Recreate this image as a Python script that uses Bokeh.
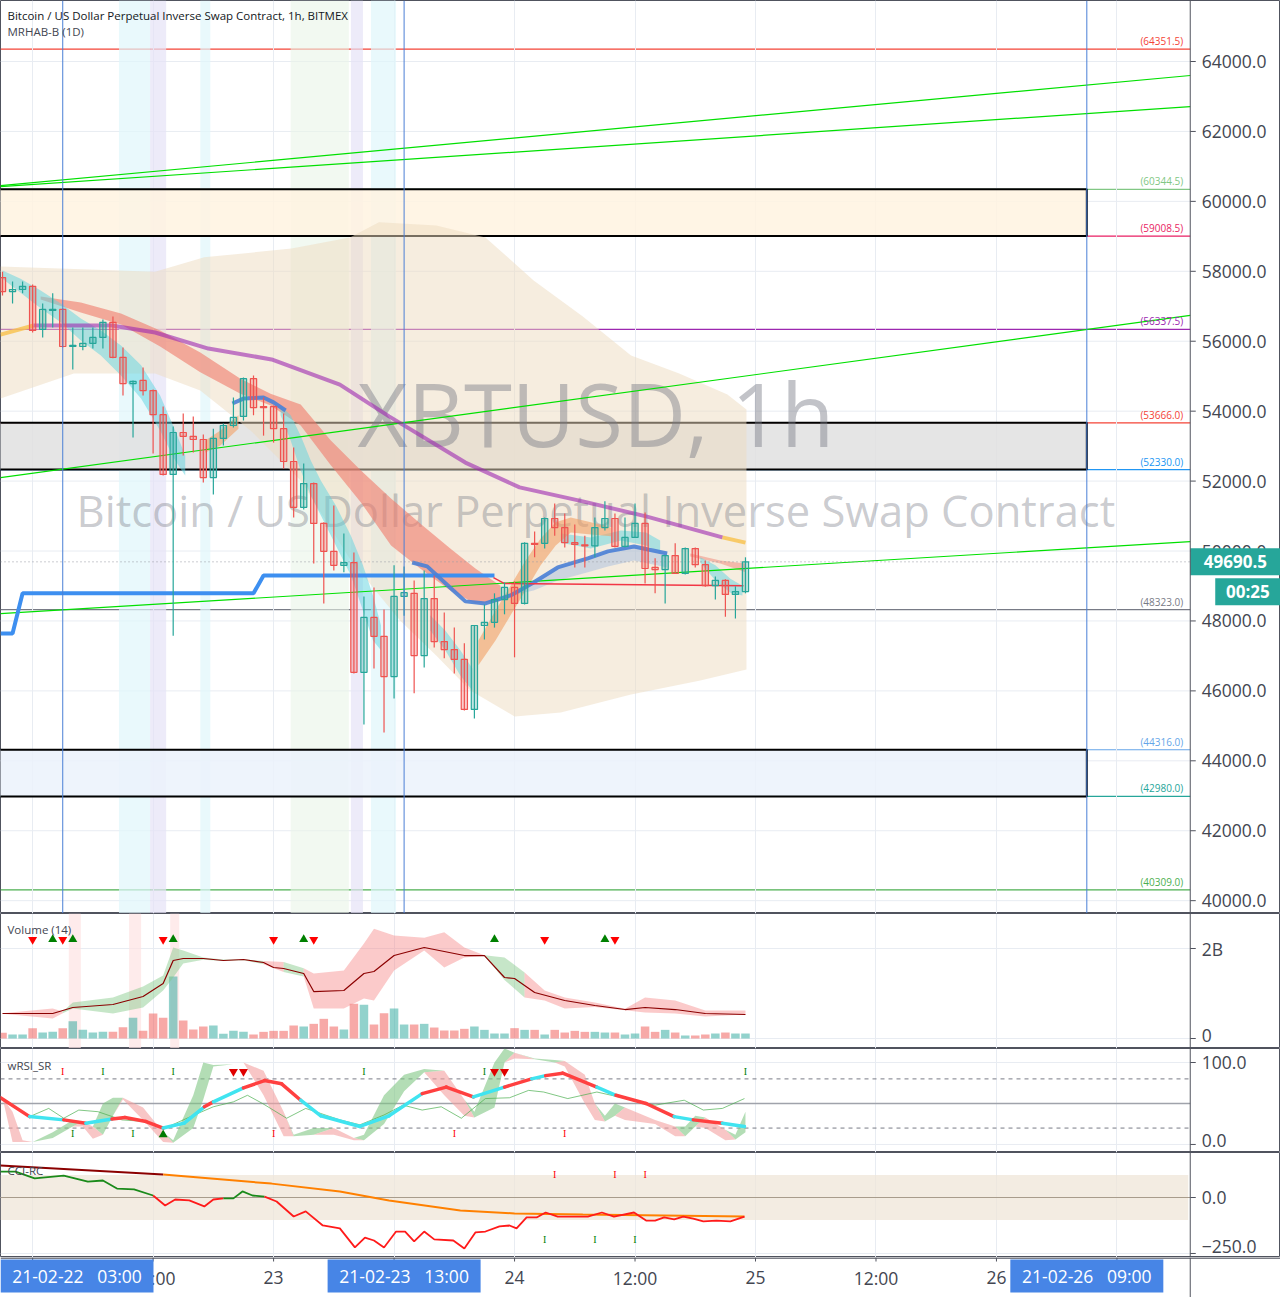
from bokeh.plotting import figure
from bokeh.models import Range1d, FixedTicker, Label, Span, BoxAnnotation
from bokeh.layouts import column
from bokeh.core.properties import value
from bokeh.embed import file_html
from bokeh.resources import INLINE

FONT = "Open Sans"

# ---- candles, one per hour; hours counted from 21-02-23 00:00 ----
hours = list(range(-27, 48))
opens = [57820, 57420, 57480, 57570, 56340, 56880, 56910, 55850, 55850, 55940,
         56110, 56540, 55540, 54790, 54880, 54590, 53900, 52190, 53390, 53280,
         53190, 52100, 53220, 53590, 53850, 54930, 54130, 54130, 53500, 52560,
         51250, 51930, 50790, 49990, 49590, 49670, 46530, 48100, 47560, 46410,
         48700, 48790, 47010, 48640, 47410, 47180, 46900, 45470, 47870, 47960,
         48610, 48960, 48500, 50220, 50220, 50930, 50670, 50240, 50180, 50150,
         50670, 50930, 50130, 50390, 50790, 49530, 49470, 49870, 49360, 50070,
         49610, 49010, 49160, 48760, 48840]
highs = [57990, 57710, 57710, 57620, 57080, 57370, 56940, 56390, 56390, 56390,
         56620, 56710, 55820, 54880, 55250, 54620, 54130, 53560, 53930, 53850,
         53330, 53500, 53650, 54390, 54960, 55020, 54390, 54160, 53930, 52960,
         52500, 51960, 50820, 51300, 50500, 49960, 48700, 48960, 48330, 49590,
         49560, 49160, 49440, 49300, 48240, 47810, 47360, 47870, 48470, 48790,
         49100, 49130, 50250, 50560, 50960, 51360, 51070, 50760, 50440, 50960,
         51420, 51070, 50960, 51360, 51100, 49790, 49870, 50220, 50100, 50100,
         49730, 49270, 49190, 48990, 49820]
lows = [57310, 57080, 57370, 56250, 56110, 56390, 55820, 55190, 55740, 55790,
        55790, 55510, 54450, 53250, 54450, 52790, 52160, 47580, 52730, 52820,
        51960, 51620, 53020, 53530, 53730, 53880, 53300, 53100, 52360, 50960,
        51190, 49640, 48500, 49440, 49390, 46500, 45040, 46640, 44810, 45780,
        48150, 45930, 46670, 47240, 46930, 46500, 45440, 45210, 47470, 47810,
        48190, 46960, 48470, 49820, 50070, 50440, 50100, 49530, 49530, 49820,
        50590, 50100, 50100, 50390, 49070, 48790, 48500, 49340, 49330, 49530,
        48980, 48610, 48120, 48070, 48790]
closes = [57420, 57480, 57570, 56310, 56910, 56910, 55850, 55880, 55940, 56110,
          56540, 55540, 54790, 54850, 54590, 53900, 52190, 53390, 53280, 53190,
          52100, 53220, 53590, 53820, 54930, 54100, 54100, 53500, 52560, 51250,
          51930, 50790, 49990, 49590, 49670, 46530, 48100, 47560, 46410, 48700,
          48810, 47010, 48640, 47410, 47180, 46900, 45470, 47870, 47960, 48610,
          48960, 48500, 50220, 50190, 50930, 50670, 50240, 50190, 50150, 50670,
          50930, 50130, 50390, 50790, 49500, 49470, 49870, 49360, 50070, 49610,
          49010, 49160, 48760, 48840, 49690.5]
# volume in millions
volumes = [126, 89, 89, 230, 133, 148, 230, 385, 192, 133,
           148, 148, 252, 459, 170, 556, 459, 1378, 400, 200,
           267, 289, 104, 170, 148, 89, 148, 170, 170, 289,
           267, 326, 437, 267, 200, 770, 748, 311, 563, 667,
           311, 311, 326, 244, 178, 178, 215, 267, 192, 111,
           111, 230, 192, 192, 89, 192, 133, 170, 148, 148,
           133, 133, 89, 111, 267, 148, 192, 133, 67, 67,
           89, 111, 133, 111, 111]
last_price = 49690.5
countdown = "00:25"

# ---- horizontal levels and zones ----
levels = [64351.5, 60344.5, 59008.5, 56337.5, 53666.0, 52330.0, 48323.0, 44316.0, 42980.0, 40309.0]
level_colors = ["#f44336", "#81c784", "#e91e63", "#9c27b0", "#f44336", "#2196f3",
                "#787b86", "#64a5e8", "#26a69a", "#4caf50"]
zone_top = [60344.5, 53666.0, 44316.0]
zone_bottom = [59008.5, 52330.0, 42980.0]
zone_fill = ["#fff3e0", "#e0e0e0", "#ebf2fc"]
zone_end = 81
vlines = [-21, 13, 81]

# drawn trend lines (price at left edge / right edge)
trend_h = [-27.2, 91.3]
trend_start = [60450, 60420, 52100, 48210]
trend_end = [63600, 62710, 56740, 50270]

# background session bands (hours)
cyan_bands = [(-15.4, -12.3), (-7.3, -6.3), (9.7, 12.2)]
lav_bands = [(-12.3, -10.7), (7.7, 8.9)]
green_bands = [(1.7, 7.5)]

# beige envelope
cloud_up_h = [-27.2, -11.8, -6.9, 1.8, 7.6, 10.5, 16.2, 21.1, 25.9, 30.8, 35.6, 40.4, 45.2, 47.1]
cloud_up = [58140, 57990, 58400, 58650, 58970, 59400, 59310, 58970, 57740, 56710, 55590, 55080, 54480, 54050]
cloud_lo_h = [-27.2, -19.9, -11.8, -7.3, -2.3, 2.7, 7.7, 12.6, 16.2, 19.6, 24.0, 28.6, 35.6, 42.5, 47.1]
cloud_lo = [54360, 55080, 55080, 54590, 53450, 52020, 49730, 48010, 47010, 46010, 45270, 45380, 45900, 46300, 46610]

# purple average
ma_h = [-23.9, -16.1, -11.8, -6.5, -0.2, 6.6, 11.5, 19.1, 24.5, 30.8, 37.1, 44.7]
ma = [56450, 56450, 56250, 55790, 55480, 54760, 53850, 52530, 51820, 51420, 50990, 50390]
ma_y_h = [-27.2, -23.9, 44.7, 47.0]
ma_y = [56190, 56450, 50390, 50240]

# salmon ribbon
sal_h = [-23.2, -19.2, -15.2, -11.3, -7.3, -3.3, -0.3, 2.7, 5.7, 8.7, 11.7, 14.6, 17.6, 20.1, 22.6]
sal_hi = [57280, 57110, 56790, 56310, 55680, 54930, 54500, 54190, 53160, 52300, 51500, 50790, 50070, 49500, 49010]
sal_lo = [57190, 56820, 56480, 55850, 55110, 54500, 54160, 53590, 52450, 51390, 50160, 49500, 48870, 48500, 48560]
sal2_h = [41.5, 44.5, 47.0]
sal2_hi = [49930, 49730, 49640]
sal2_lo = [49840, 49640, 49390]

# cyan ribbons
cy1_h = [-27.0, -25.2, -23.2, -21.2, -19.2, -17.2, -15.2, -13.2, -11.3, -9.8, -8.8]
cy1_hi = [58020, 57790, 57450, 57080, 56650, 56310, 55880, 55310, 54450, 53450, 52730]
cy1_lo = [57790, 57390, 56940, 56540, 56020, 55590, 55020, 54360, 53450, 52590, 52160]
cy2_h = [0.7, 1.7, 2.7, 3.7, 4.7, 6.2, 7.7, 8.9, 9.9, 10.7]
cy2_hi = [54160, 53880, 53300, 52590, 52020, 51300, 50440, 49590, 48730, 47870]
cy2_lo = [53880, 53160, 52300, 51590, 51020, 50160, 49300, 48300, 47440, 47160]
cy3_h = [15.6, 17.1, 18.6, 19.8]
cy3_hi = [48160, 47730, 47160, 46640]
cy3_lo = [47730, 47160, 46440, 46010]
cy4_h = [28.6, 31.6, 34.6, 37.1, 38.5]
cy4_hi = [50500, 50390, 50590, 50530, 50300]
cy4_lo = [50240, 50070, 50300, 50160, 49960]
cy5_h = [42.5, 44.0, 45.5, 46.7]
cy5_hi = [49820, 49590, 49210, 49010]
cy5_lo = [49670, 49160, 48810, 48730]

# orange ribbons
or1_h = [-6.8, -5.3, -3.5]
or1_hi = [53160, 53450, 53880]
or1_lo = [52820, 53020, 53500]
or2_h = [20.4, 22.1, 23.6, 25.1, 26.6, 28.1, 29.6, 31.6, 33.6]
or2_hi = [47440, 48300, 49010, 49730, 50360, 50820, 50960, 50820, 50670]
or2_lo = [46730, 47440, 48160, 48870, 49590, 50160, 50530, 50470, 50420]

# blue lines
step_h = [-27.2, -26.0, -25.0, -2.0, -1.0, 22.0]
step_p = [47640, 47640, 48790, 48790, 49300, 49300]
bl1_h = [-4.1, -3.0, -1.0, 0.0, 1.2]
bl1_p = [54220, 54360, 54390, 54250, 54020]
bl2_h = [13.8, 15.3, 17.9, 19.1, 21.1, 23.6, 25.9, 28.3, 31.3, 33.3, 35.9, 39.2]
bl2_p = [49670, 49560, 48870, 48560, 48500, 48730, 49100, 49530, 49790, 49990, 50130, 49930]
bl2_lo = [49670, 49560, 48870, 48560, 48500, 48730, 48870, 49160, 49390, 49560, 49730, 49530]
thin_red_h = [21.9, 23.0, 46.8]
thin_red_p = [49240, 49070, 49010]

# ---- volume panel ----
vol_ma_h = [-27, -22, -20, -16, -13, -11, -10, -9, -7, -5, -3, -1, 0, 1, 3, 4, 7, 9, 10, 12, 15,
            19, 21, 23, 24, 26, 29, 32, 35, 37, 40, 43, 47]
vol_ma = [556, 556, 689, 756, 933, 1222, 1733, 1778, 1778, 1733, 1756, 1689, 1578, 1556, 1444, 1044,
          1067, 1444, 1489, 1844, 2022, 1844, 1844, 1356, 1333, 1022, 844, 733, 644, 689, 644, 556, 533]
vol_band_h = [-27, -22, -21, -20, -16, -13, -11, -10, -9, -7, -5, -3, -1, 1, 3, 4, 7, 9, 10, 12,
              15, 17, 19, 21, 23, 25, 27, 29, 32, 35, 37, 40, 43, 47]
vol_band_hi = [560, 667, 600, 800, 911, 1156, 1400, 2022, 1956, 1800, 1756, 1760, 1720, 1700, 1560,
               1444, 1511, 2110, 2440, 2290, 2240, 2360, 2020, 1850, 1800, 1467, 1067, 911, 800, 660,
               911, 844, 622, 622]
vol_band_lo = [550, 444, 560, 667, 556, 689, 1067, 1356, 1667, 1750, 1720, 1740, 1650, 1480, 1380,
               667, 667, 889, 844, 1511, 1956, 1578, 1800, 1840, 1300, 911, 844, 667, 700, 630,
               578, 556, 489, 533]
vol_band_col = "rrggggggggggrgrrrrrrrrrggrrrrrrrrr"
vol_dn_h = [-24, -21, -11, 0, 4, 27, 34]
vol_up_h = [-22, -20, -10, 3, 22, 33]
vol_pink_bands = [(-20.4, -19.2), (-14.4, -13.2), (-10.3, -9.4)]

# ---- wRSI panel ----
rsi_h = [-27.2, -24.3, -20.9, -18.7, -16.1, -14.8, -12.7, -11.0, -8.9, -6.9, -6.0, -3.0, -0.9, 0.8,
         2.7, 4.7, 8.6, 11.5, 14.8, 17.2, 19.9, 23.0, 25.7, 27.1, 28.8, 32.2, 34.1, 37.1, 39.9, 41.8,
         44.7, 46.9]
rsi = [57, 34, 30, 26, 31, 33, 28, 20, 26, 46, 52, 69, 78, 74, 54, 35, 22, 35, 62, 70, 58, 70, 80,
       84, 87, 70, 60, 50, 34, 30, 26, 22]
rsi_col = "rcrcrrrccrcrrrccccrrcrcrrcrrcrcc"
fs_h = [-27, -26, -25, -24, -22, -20, -19, -18, -17, -16, -15, -13, -11, -10, -8, -7, -6, -4, -3, -1,
        1, 2, 4, 6, 8, 9, 11, 13, 15, 17, 19, 20, 22, 23, 24, 26, 28, 29, 31, 32, 33, 34, 35, 38, 40,
        41, 42, 43, 45, 46, 47]
fast = [57, 3, 3, 3, 15, 30, 22, 7, 50, 57, 55, 30, 3, 5, 60, 100, 97, 98, 100, 60, 10, 12, 20, 12,
        5, 12, 60, 85, 92, 60, 35, 40, 100, 117, 105, 105, 103, 95, 50, 30, 35, 50, 30, 25, 10, 22,
        35, 20, 5, 12, 40]
slow = [57, 40, 5, 3, 8, 22, 28, 22, 12, 35, 57, 45, 15, 2, 20, 55, 95, 98, 100, 90, 40, 10, 12, 20,
        8, 5, 25, 65, 88, 90, 55, 33, 45, 100, 112, 104, 100, 102, 85, 50, 28, 35, 45, 30, 22, 10,
        22, 33, 18, 6, 15]
raw_h = [-27.2, -24.3, -22.4, -20.9, -19.4, -17.5, -15.1, -12.7, -10.8, -7.9, -6.0, -4.0, -2.6, -1.1,
         1.3, 3.2, 6.6, 8.6, 11.0, 12.9, 14.8, 16.7, 18.7, 21.1, 23.5, 25.4, 26.9, 29.3, 32.2, 35.1,
         38.0, 40.9, 42.8, 44.7, 46.9]
raw = [56, 34, 44, 32, 42, 40, 30, 28, 20, 36, 46, 52, 60, 50, 32, 44, 30, 24, 36, 48, 42, 46, 32,
       56, 57, 66, 64, 56, 64, 56, 48, 54, 42, 44, 56]
rsi_red_tri_h = [-4, -3, 22, 23]
rsi_green_tri_h = [-11]
rsi_top_red_i = [-21]
rsi_top_green_i = [-17, -10, 9, 21, 47]
rsi_bot_red_i = [0, 18, 29]
rsi_bot_green_i = [-20, -14]

# ---- CCI panel ----
cci_slow_h = [-27.2, -11.0, -0.2, 6.6, 11.5, 18.6, 24.0, 30.8, 46.9]
cci_slow = [143, 103, 62, 27, -13, -58, -71, -76, -85]
cci_h = [-27.2, -25.7, -23.8, -20.9, -18.5, -17.0, -15.6, -13.9, -12.0, -10.8, -9.8, -8.4, -6.9,
         -6.0, -5.0, -4.0, -3.1, -2.1, -0.9, 0.3, 2.0, 3.2, 4.9, 6.6, 8.1, 9.1, 10.0, 11.0, 12.2,
         13.1, 14.0, 15.0, 16.0, 17.9, 19.0, 20.1, 21.1, 22.5, 23.5, 24.2, 25.2, 26.2, 27.1, 28.3,
         30.3, 31.3, 32.7, 33.9, 35.9, 37.1, 38.0, 38.9, 39.9, 40.8, 41.8, 42.8, 44.1, 45.5, 46.9]
cci = [116, 116, 85, 98, 71, 76, 40, 36, 9, -36, -9, -13, -40, -9, -4, -4, 27, 9, 4, -18, -85, -62,
       -125, -138, -223, -179, -192, -223, -152, -152, -196, -152, -187, -192, -228, -156, -152,
       -129, -125, -138, -89, -89, -67, -85, -85, -85, -67, -85, -67, -103, -103, -89, -98, -85,
       -94, -107, -103, -107, -85]
cci_col = "ggggggggrrrrrrggggrrrrrrrrrrrrrrrrrrrrrrrrrrrrrrrrrrrrrrrrr"
cci_top_red_i = [28, 34, 37]
cci_bot_green_i = [27, 32, 36]

# ---- axes ----
x_ticks = [-24, -12, 0, 12, 24, 36, 48, 60, 72, 84]
x_labels = ["22", "12:00", "23", "12:00", "24", "12:00", "25", "12:00", "26", "12:00"]
price_ticks = list(range(40000, 64001, 2000))
date_marks = [(-21, "21-02-22", "03:00"), (13, "21-02-23", "13:00"), (81, "21-02-26", "09:00")]

# ---------------------------------------------------------------------------
W = 1280
H_MAIN, H_VOL, H_RSI, H_CCI, H_XAX = 913, 135, 104, 105, 40
PX_H = 10.04            # pixels per hour
AX_H = 91.3             # hour at the price-axis edge
GRID = "#e8ecf2"
AXC = "#50535e"
TXT = "#434651"
UP, DOWN = "#26a69a", "#ef5350"

xr = Range1d(-27.2, -27.2 + W / PX_H)
XS = xr.start


def make_panel(height, y0, y1):
    p = figure(width=W, height=height, x_range=xr, y_range=Range1d(y0, y1),
               output_backend="svg", toolbar_location=None,
               x_axis_location=None, y_axis_location=None, min_border=0)
    p.outline_line_color = AXC
    p.border_fill_color = "white"
    p.xgrid.ticker = FixedTicker(ticks=x_ticks)
    p.xgrid.grid_line_color = GRID
    p.ygrid.visible = False
    return p


def price_axis(p, ticks, labels, offsets=None):
    n = len(ticks)
    p.segment(x0=[XS] * n, x1=[AX_H] * n, y0=ticks, y1=ticks, line_color=GRID,
              level="underlay")
    p.segment(x0=[AX_H] * n, x1=[AX_H + 0.55] * n, y0=ticks, y1=ticks, line_color=AXC)
    p.text(x=[AX_H + 1.15] * n, y=ticks, text=labels, y_offset=offsets or [0] * n,
           text_font=value(FONT), text_font_size="17.5px", text_color=TXT,
           text_align="left", text_baseline="middle")
    p.add_layout(Span(location=AX_H, dimension="height", line_color=AXC, line_width=1))


def hline(p, y, color, width=1.0, dash="solid", level="glyph"):
    p.line([XS, AX_H], [y, y], line_color=color, line_width=width, line_dash=dash, level=level)


def panel_title(p, text, y):
    p.add_layout(Label(x=7, y=y, x_units="screen", y_units="screen", text=text,
                       text_font=FONT, text_font_size="11.5px", text_color=TXT,
                       text_baseline="middle"))


def runs(cols):
    out, i0 = [], 0
    for i in range(1, len(cols)):
        if i == len(cols) - 1 or cols[i] != cols[i0]:
            out.append((i0, i, cols[i0]))
            i0 = i
    return out


up = [c >= o for o, c in zip(opens, closes)]
ccol = [UP if u else DOWN for u in up]

# ================= main price panel =================
P_LO, P_HI = 39633, 65745
p = make_panel(H_MAIN, P_LO, P_HI)
ppx = (P_HI - P_LO) / H_MAIN      # price units per pixel
price_axis(p, price_ticks, ["%.1f" % t for t in price_ticks])

for a, b in cyan_bands:
    p.add_layout(BoxAnnotation(left=a, right=b, fill_color="#dff7fb", fill_alpha=0.7,
                               line_color=None, level="underlay"))
for a, b in lav_bands:
    p.add_layout(BoxAnnotation(left=a, right=b, fill_color="#e6e3f7", fill_alpha=0.7,
                               line_color=None, level="underlay"))
for a, b in green_bands:
    p.add_layout(BoxAnnotation(left=a, right=b, fill_color="#eaf5e8", fill_alpha=0.6,
                               line_color=None, level="underlay"))

for lv, c in zip(levels, level_colors):
    hline(p, lv, c, 1.2, level="underlay")

p.quad(left=XS - 5, right=zone_end, bottom=zone_bottom, top=zone_top,
       fill_color=zone_fill, fill_alpha=0.85, line_color="black", line_width=2)

p.patch(cloud_up_h + cloud_lo_h[::-1], cloud_up + cloud_lo[::-1],
        fill_color="#eedcbf", fill_alpha=0.5, line_color=None)

p.text(x=[32.1], y=[53960], text=["XBTUSD, 1h"], text_font=value(FONT),
       text_font_size="87px", text_color="#787b86", text_alpha=0.45,
       text_align="center", text_baseline="middle")
p.text(x=[32.1], y=[51160], text=["Bitcoin / US Dollar Perpetual Inverse Swap Contract"],
       text_font=value(FONT), text_font_size="43.5px", text_color="#787b86", text_alpha=0.4,
       text_align="center", text_baseline="middle")

p.varea(x=sal_h, y1=sal_lo, y2=sal_hi, fill_color="#f07a6a", fill_alpha=0.6)
p.varea(x=sal2_h, y1=sal2_lo, y2=sal2_hi, fill_color="#f07a6a", fill_alpha=0.45)
for hh, hi, lo in [(cy1_h, cy1_hi, cy1_lo), (cy2_h, cy2_hi, cy2_lo), (cy3_h, cy3_hi, cy3_lo),
                   (cy4_h, cy4_hi, cy4_lo), (cy5_h, cy5_hi, cy5_lo)]:
    p.varea(x=hh, y1=lo, y2=hi, fill_color="#5fd3e0", fill_alpha=0.5)
for hh, hi, lo in [(or1_h, or1_hi, or1_lo), (or2_h, or2_hi, or2_lo)]:
    p.varea(x=hh, y1=lo, y2=hi, fill_color="#f2a066", fill_alpha=0.6)
p.varea(x=bl2_h, y1=bl2_lo, y2=bl2_p, fill_color="#6f9ee0", fill_alpha=0.3)

for y0, y1 in zip(trend_start, trend_end):
    p.line(trend_h, [y0, y1], line_color="#00e000", line_width=1.2)

p.line(ma_y_h[:2], ma_y[:2], line_color="#f9c04a", line_width=4, line_alpha=0.8)
p.line(ma_y_h[2:], ma_y[2:], line_color="#f9c04a", line_width=4, line_alpha=0.8)
p.line(ma_h, ma, line_color="#9c27b0", line_width=4, line_alpha=0.6)

p.line(step_h, step_p, line_color="#3d8ff0", line_width=4)
p.line(bl1_h, bl1_p, line_color="#4a7fd6", line_width=4, line_alpha=0.9)
p.line(bl2_h, bl2_p, line_color="#4a7fd6", line_width=4, line_alpha=0.9)
p.line(thin_red_h, thin_red_p, line_color="#f23645", line_width=1.5)

hline(p, last_price, "#9598a1", 1, dash="1 3")
for v in vlines:
    p.add_layout(Span(location=v, dimension="height", line_color="#4a7fd6", line_width=1))

p.segment(x0=hours, y0=lows, x1=hours, y1=highs, line_color=ccol, line_width=1.2)
p.vbar(x=hours, width=0.62, top=[max(o, c) for o, c in zip(opens, closes)],
       bottom=[min(o, c) for o, c in zip(opens, closes)],
       fill_color=ccol, fill_alpha=0.28, line_color=ccol, line_width=1.2)

p.text(x=[90.6] * len(levels), y=levels, text=["(%.1f)" % v for v in levels],
       text_color=level_colors, text_font=value(FONT), text_font_size="10px",
       text_align="right", text_baseline="bottom", y_offset=-1)

p.add_layout(Label(x=7, y=H_MAIN - 15, x_units="screen", y_units="screen",
                   text="Bitcoin / US Dollar Perpetual Inverse Swap Contract, 1h, BITMEX",
                   text_font=FONT, text_font_size="11.5px", text_color="#131722",
                   text_baseline="middle"))
panel_title(p, "MRHAB-B (1D)", H_MAIN - 31)

# last price and countdown tags in the axis strip
tag_half = 13.5 * ppx
cd_y = last_price - 30 * ppx
cd_left = AX_H + 25 / PX_H
p.quad(left=[AX_H, cd_left], right=[xr.end, xr.end],
       bottom=[last_price - tag_half, cd_y - tag_half],
       top=[last_price + tag_half, cd_y + tag_half],
       fill_color="#26a69a", line_color=None)
p.text(x=[(AX_H + xr.end) / 2, (cd_left + xr.end) / 2], y=[last_price, cd_y],
       text=["%.1f" % last_price, countdown], text_font=value(FONT), text_font_size="17px",
       text_font_style="bold", text_color="white", text_align="center", text_baseline="middle")

# ================= volume panel =================
pv = make_panel(H_VOL, -222, 2778)
price_axis(pv, [0, 2000], ["0", "2B"], offsets=[-3, 0])
for a, b in vol_pink_bands:
    pv.add_layout(BoxAnnotation(left=a, right=b, fill_color="#fde3e3", fill_alpha=0.7,
                                line_color=None, level="underlay"))
pv.vbar(x=hours, width=0.85, top=volumes, bottom=0, fill_color=ccol, line_color=None,
        fill_alpha=0.5)
for i0, i1, c in runs(vol_band_col):
    pv.varea(x=vol_band_h[i0:i1 + 1], y1=vol_band_lo[i0:i1 + 1], y2=vol_band_hi[i0:i1 + 1],
             fill_color="#81c784" if c == "g" else "#f78a8a", fill_alpha=0.45)
pv.line(vol_ma_h, vol_ma, line_color="#8b0000", line_width=1.2)
pv.scatter(vol_dn_h, [2200] * len(vol_dn_h), marker="inverted_triangle", size=9,
           fill_color="#ff0000", line_color=None)
pv.scatter(vol_up_h, [2200] * len(vol_up_h), marker="triangle", size=9,
           fill_color="#008000", line_color=None)
panel_title(pv, "Volume (14)", H_VOL - 16)

# ================= wRSI panel =================
pr = make_panel(H_RSI, -9.8, 117.1)
price_axis(pr, [0, 100], ["0.0", "100.0"], offsets=[-4, 0])
for lv in (80, 20):
    hline(pr, lv, "#787b86", 1, dash="4 4")
hline(pr, 50, "#a0a3ab", 1.5)
pr.varea(x=fs_h, y1=slow, y2=[max(f, s) for f, s in zip(fast, slow)],
         fill_color="#81c784", fill_alpha=0.6)
pr.varea(x=fs_h, y1=[min(f, s) for f, s in zip(fast, slow)], y2=slow,
         fill_color="#f4a0a0", fill_alpha=0.6)
pr.line(raw_h, raw, line_color="#4caf50", line_width=1, line_alpha=0.7)
pr.segment(x0=rsi_h[:-1], y0=rsi[:-1], x1=rsi_h[1:], y1=rsi[1:],
           line_color=["#ff4040" if c == "r" else "#40e4f0" for c in rsi_col[:-1]],
           line_width=3.5, line_cap="round")
pr.scatter(rsi_red_tri_h, [89] * len(rsi_red_tri_h), marker="inverted_triangle", size=9,
           fill_color="#e00000", line_color=None)
pr.scatter(rsi_green_tri_h, [12] * len(rsi_green_tri_h), marker="triangle", size=9,
           fill_color="#007a00", line_color=None)
for hs, yv, c in [(rsi_top_red_i, 89, "#ff0000"), (rsi_top_green_i, 89, "#008000"),
                  (rsi_bot_red_i, 13, "#ff0000"), (rsi_bot_green_i, 13, "#008000")]:
    pr.text(x=hs, y=[yv] * len(hs), text=["I"] * len(hs), text_color=c,
            text_font=value("Liberation Serif"), text_font_size="10px",
            text_align="center", text_baseline="middle")
panel_title(pr, "wRSI_SR", H_RSI - 17)

# ================= CCI panel =================
pc = make_panel(H_CCI, -268, 201)
price_axis(pc, [-250, 0], ["\u2212250.0", "0.0"], offsets=[-7, 0])
pc.add_layout(BoxAnnotation(bottom=-100, top=100, right=AX_H - 0.2, fill_color="#efe5d8",
                            fill_alpha=0.75, line_color=None, level="underlay"))
hline(pc, 0, "#a89c8c", 1)
pc.line(cci_slow_h[:2], cci_slow[:2], line_color="#8b0000", line_width=2)
pc.line(cci_slow_h[1:], cci_slow[1:], line_color="#ff8000", line_width=2)
for i0, i1, c in runs(cci_col):
    pc.line(cci_h[i0:i1 + 1], cci[i0:i1 + 1],
            line_color="#1a8a1a" if c == "g" else "#ff1a1a", line_width=1.8)
for hs, yv, c in [(cci_top_red_i, 103, "#ff0000"), (cci_bot_green_i, -187, "#008000")]:
    pc.text(x=hs, y=[yv] * len(hs), text=["I"] * len(hs), text_color=c,
            text_font=value("Liberation Serif"), text_font_size="10px",
            text_align="center", text_baseline="middle")
panel_title(pc, "CCI-RC", H_CCI - 18)

# ================= time axis strip =================
pt = figure(width=W, height=H_XAX, x_range=xr, y_range=Range1d(0, H_XAX),
            output_backend="svg", toolbar_location=None,
            x_axis_location=None, y_axis_location=None, min_border=0)
pt.outline_line_color = None
pt.xgrid.visible = False
pt.ygrid.visible = False
pt.line([XS, xr.end], [H_XAX - 0.5, H_XAX - 0.5], line_color=AXC, line_width=1.5)
pt.line([AX_H, AX_H], [0, H_XAX], line_color=AXC, line_width=1)
pt.segment(x0=x_ticks, x1=x_ticks, y0=[H_XAX] * len(x_ticks), y1=[H_XAX - 4] * len(x_ticks),
           line_color=AXC)
pt.text(x=x_ticks, y=[20] * len(x_ticks), text=x_labels, text_font=value(FONT),
        text_font_size="17.5px", text_color=TXT, text_align="center", text_baseline="middle")
box_w = 153 / PX_H
box_l = [max(XS, h - box_w / 2) for h, d, t in date_marks]
pt.quad(left=box_l, right=[l + box_w for l in box_l], bottom=5, top=38,
        fill_color="#4785e6", line_color=None)
pt.text(x=[l + box_w / 2 for l in box_l], y=[21.5] * len(date_marks),
        text=[d + "\u00a0\u00a0\u00a0" + t for h, d, t in date_marks],
        text_font=value(FONT), text_font_size="17.5px", text_color="white",
        text_align="center", text_baseline="middle")

layout = column(p, pv, pr, pc, pt)
open("out.html", "w").write(file_html(layout, INLINE, "XBTUSD"))
